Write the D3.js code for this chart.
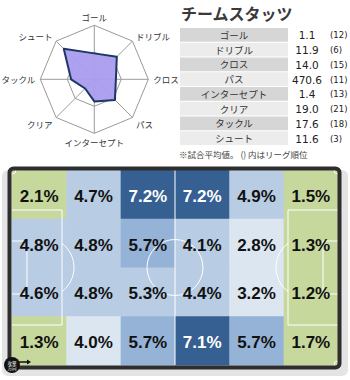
<!DOCTYPE html>
<html><head><meta charset="utf-8">
<script src="https://cdn.jsdelivr.net/npm/d3@7"></script>
<style>body{margin:0;background:#fff}svg{display:block}</style></head><body>
<script>
const radarAxes = ["ゴール","ドリブル","クロス","パス","インターセプト","クリア","タックル","シュート"];
const radarValues = [0.48,0.59,0.40,0.54,0.41,0.24,0.43,0.80];
const statNames = ["ゴール","ドリブル","クロス","パス","インターセプト","クリア","タックル","シュート"];
const statValues = ["1.1","11.9","14.0","470.6","1.4","19.0","17.6","11.6"];
const statRanks = [12,6,15,11,13,21,18,3];
const zoneRows = [0,1,2,3];
const zoneCols = [0,1,2,3,4,5];
const zoneValues = [
  [2.1,4.7,7.2,7.2,4.9,1.5],
  [4.8,4.8,5.7,4.1,2.8,1.3],
  [4.6,4.8,5.3,4.4,3.2,1.2],
  [1.3,4.0,5.7,7.1,5.7,1.7]
];
const zoneThresholds = [2.5,4.05,5.5,7.0];
const zoneColors = ["#c6d89c","#dce6f1","#b8cce4","#95b3d7","#366092"];

const W=350,H=380;
const svg=d3.select("body").append("svg").attr("width",W).attr("height",H);
const jp="'Noto Sans CJK JP','Noto Sans',sans-serif";

// ---------- Radar ----------
const cx=94.3, cy=79.3, R=54;
const rScale=d3.scaleLinear().domain([0,1]).range([0,R]);
const n=radarAxes.length;
const ang=i=>i*2*Math.PI/n;
const gR=svg.append("g").attr("transform",`translate(${cx},${cy})`);
const ringLine=d3.lineRadial().angle((d,i)=>ang(i)).radius(d=>rScale(d)).curve(d3.curveLinearClosed);
[0.5,1].forEach(v=>{
  gR.append("path").attr("d",ringLine(radarAxes.map(()=>v))).attr("fill","none").attr("stroke","#9a9a9a").attr("stroke-width",1);
});
radarAxes.forEach((a,i)=>{
  gR.append("line").attr("x1",0).attr("y1",0)
    .attr("x2",rScale(1)*Math.sin(ang(i))).attr("y2",-rScale(1)*Math.cos(ang(i)))
    .attr("stroke","#9a9a9a").attr("stroke-width",1);
});
gR.append("path").attr("d",ringLine(radarValues))
  .attr("fill","#a99cef").attr("fill-opacity",0.95)
  .attr("stroke","#1c3766").attr("stroke-width",2).attr("stroke-linejoin","round");
radarAxes.forEach((a,i)=>{
  const s=Math.sin(ang(i)), c=Math.cos(ang(i));
  const rr=R+5;
  let x=rr*s, y=-rr*c;
  let anchor = Math.abs(s)<0.01?"middle":(s>0?"start":"end");
  if(Math.abs(s)<0.01) y += (c>0?-3:4);
  else if(Math.abs(c)>0.01) y += (c>0?-2:3);
  gR.append("text").attr("x",x).attr("y",y).attr("text-anchor",anchor)
    .attr("dominant-baseline","central")
    .style("font-family",jp).style("font-size","8.5px").attr("fill","#333").text(a);
});

// ---------- Table ----------
svg.append("text").attr("x",181).attr("y",20).style("font-family",jp).style("font-size","16px")
  .style("font-weight","bold").attr("fill","#3a3a3a").text("チームスタッツ");
const rowY=d3.scaleBand().domain(d3.range(statNames.length)).range([28,145]).paddingInner(0.07);
const gt=svg.append("g");
statNames.forEach((nm,i)=>{
  const y=rowY(i), h=rowY.bandwidth();
  gt.append("rect").attr("x",180).attr("y",y).attr("width",108).attr("height",h)
    .attr("fill", i%2===0?"#d6d6d6":"#ececec");
  gt.append("text").attr("x",234).attr("y",y+h/2).attr("text-anchor","middle").attr("dominant-baseline","central")
    .style("font-family",jp).style("font-size","9.5px").attr("fill","#333").text(nm);
  gt.append("text").attr("x",307).attr("y",y+h/2+0.5).attr("text-anchor","middle").attr("dominant-baseline","central")
    .style("font-family","'DejaVu Sans',sans-serif").style("font-size","10.5px").attr("fill","#222").text(statValues[i]);
  gt.append("text").attr("x",330).attr("y",y+h/2+0.5).attr("dominant-baseline","central")
    .style("font-family","'DejaVu Sans',sans-serif").style("font-size","8.5px").attr("fill","#222").text(`(${statRanks[i]})`);
});
svg.append("text").attr("x",179).attr("y",158).style("font-family",jp).style("font-size","8.5px")
  .attr("fill","#444").text("※試合平均値。 () 内はリーグ順位");

// ---------- Pitch ----------
const px0=12, px1=338, py0=170, py1=365;
svg.append("rect").attr("x",2).attr("y",170).attr("width",346).attr("height",206).attr("rx",6).attr("fill","#e4e4e4");
const xS=d3.scaleBand().domain(zoneCols).range([px0,px1]);
const yS=d3.scaleBand().domain(zoneRows).range([py0,py1]);
const col=d3.scaleThreshold().domain(zoneThresholds).range(zoneColors);
const gp=svg.append("g");
zoneRows.forEach(r=>zoneCols.forEach(c=>{
  gp.append("rect").attr("x",xS(c)).attr("y",yS(r)).attr("width",xS.bandwidth()+0.5).attr("height",yS.bandwidth()+0.5)
    .attr("fill",col(zoneValues[r][c]));
}));
// markings
const mk=svg.append("g").attr("fill","none").attr("stroke","#fff").attr("stroke-width",1);
const pcx=(px0+px1)/2, pcy=(py0+py1)/2;
mk.append("line").attr("x1",pcx).attr("x2",pcx).attr("y1",py0).attr("y2",py1);
mk.append("circle").attr("cx",pcx).attr("cy",pcy).attr("r",28);
[[px0,1],[px1,-1]].forEach(([gx,dir])=>{
  mk.append("path").attr("d",`M${gx},${pcy-57.5}H${gx+dir*50}V${pcy+57.5}H${gx}`);
  mk.append("path").attr("d",`M${gx},${pcy-26.5}H${gx+dir*15}V${pcy+26.5}H${gx}`);
  const sx=gx+dir*32, rr=30, dx=50-32, dy=Math.sqrt(rr*rr-dx*dx);
  mk.append("path").attr("d",`M${gx+dir*50},${pcy-dy}A${rr},${rr} 0 0 ${dir>0?1:0} ${gx+dir*50},${pcy+dy}`);
});
[[px0,py0,1,1],[px1,py0,-1,1],[px0,py1,1,-1],[px1,py1,-1,-1]].forEach(([x,y,dx,dy])=>{
  mk.append("path").attr("d",`M${x+dx*4},${y}A4,4 0 0 ${dx*dy>0?1:0} ${x},${y+dy*4}`);
});
// labels
zoneRows.forEach(r=>zoneCols.forEach(c=>{
  const v=zoneValues[r][c];
  svg.append("text").attr("x",xS(c)+xS.bandwidth()/2).attr("y",yS(r)+yS.bandwidth()/2+2)
    .attr("text-anchor","middle").attr("dominant-baseline","central")
    .style("font-family","'Liberation Sans',Arial,sans-serif").style("font-size","17px").style("font-weight","bold")
    .attr("fill", v>=7?"#fff":"#111").text(v.toFixed(1)+"%");
}));
// frame
svg.append("rect").attr("x",9.5).attr("y",168.5).attr("width",330).attr("height",199).attr("rx",4)
  .attr("fill","none").attr("stroke","#2e2e2e").attr("stroke-width",4);
// attack direction badge
const bd=svg.append("g");
bd.append("line").attr("x1",18).attr("x2",28).attr("y1",362).attr("y2",362).attr("stroke","#111").attr("stroke-width",1.5);
bd.append("path").attr("d","M31,362L27,359.5L27,364.5Z").attr("fill","#111");
bd.append("circle").attr("cx",12).attr("cy",365).attr("r",8).attr("fill","#111");
bd.append("text").attr("x",12).attr("y",362.5).attr("text-anchor","middle").attr("dominant-baseline","central")
  .style("font-family",jp).style("font-size","4.5px").attr("fill","#fff").text("攻撃");
bd.append("text").attr("x",12).attr("y",367.5).attr("text-anchor","middle").attr("dominant-baseline","central")
  .style("font-family",jp).style("font-size","4.5px").attr("fill","#fff").text("方向");
</script></body></html>
